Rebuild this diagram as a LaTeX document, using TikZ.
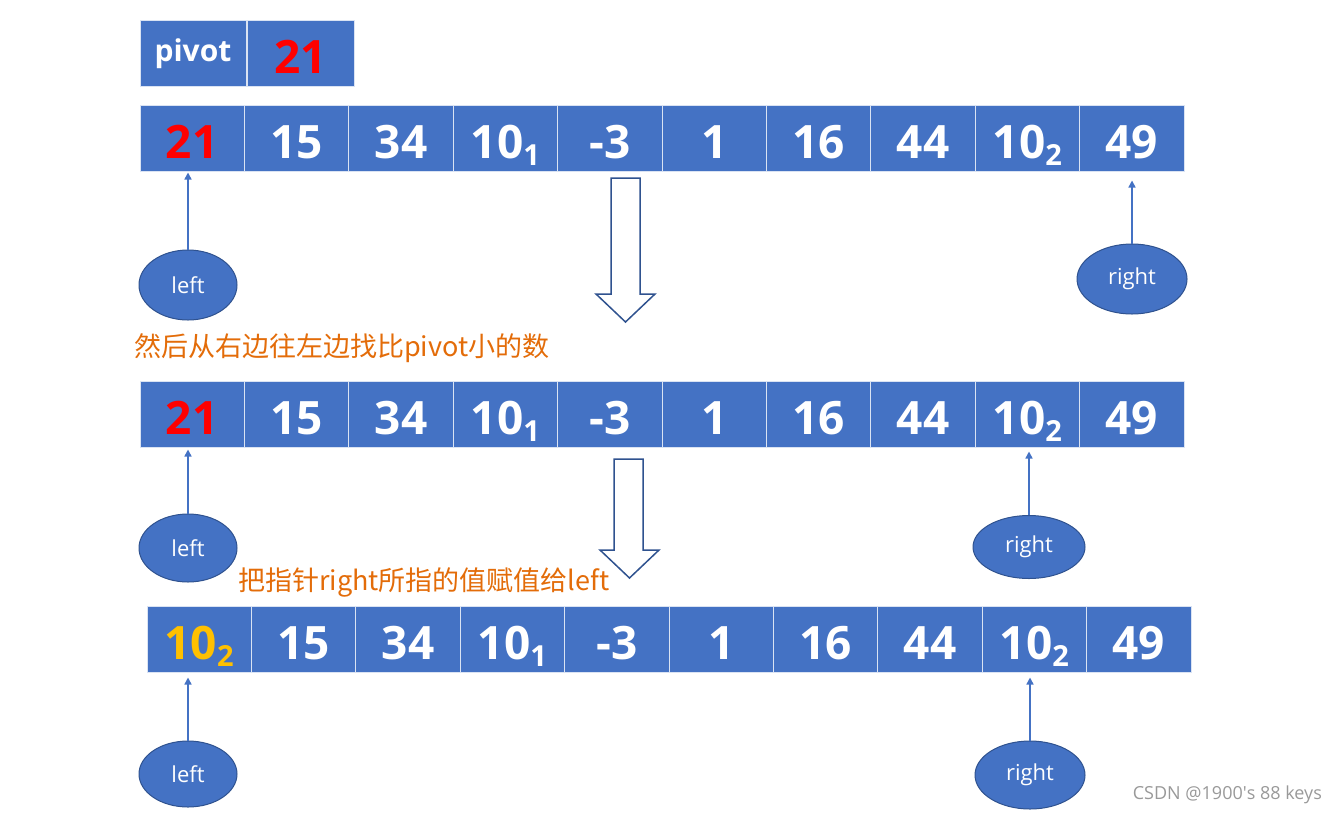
\documentclass[tikz,border=0pt]{standalone}
\usepackage{fontspec}
\setmainfont{Open Sans}
\newfontfamily\cjk{Noto Sans CJK SC}
\usepackage{xcolor}
\usepackage{tikz}
\usetikzlibrary{arrows.meta, positioning, shapes.geometric, calc}
\definecolor{cellblue}{HTML}{4472C4}
\definecolor{cellline}{HTML}{DAE3F3}
\definecolor{edgeblue}{HTML}{2F528F}
\definecolor{noteorange}{HTML}{E36C09}
\definecolor{swapgold}{HTML}{FFC000}
\newcommand{\idx}[1]{\raisebox{-.17em}{\fontsize{29}{29}\selectfont #1}}

\begin{document}
\begin{tikzpicture}[
          x=1pt, y=-1pt,
          cell/.style={rectangle, draw=cellline, line width=1pt, fill=cellblue, text=white,
                       minimum width=104.4pt, minimum height=66pt, inner sep=0pt,
                       text height=40pt, text depth=0pt,
                       font=\fontsize{46}{46}\selectfont\bfseries},
          ptr/.style={ellipse, draw=edgeblue, line width=1pt, fill=cellblue, text=white,
                      inner sep=0pt, font=\fontsize{22}{22}\selectfont},
          up/.style={-{Triangle[length=7pt,width=7pt]}, cellblue, line width=1.5pt},
          note/.style={anchor=west, inner sep=0pt, text=noteorange, font=\cjk\fontsize{27}{27}\selectfont},
          bigarrow/.style={draw=edgeblue, fill=white, line width=1.5pt, line join=miter}
        ]
          \useasboundingbox (0,0) rectangle (1337,815);

          % pivot box
          \node[cell, minimum width=106pt, text height=24pt, text depth=8pt,
                font=\fontsize{30}{30}\selectfont\bfseries] (pv) at (193,53) {pivot};
          \node[cell, minimum width=107pt] (pn) at (300.5,53) {\textcolor{red}{21}};

          % first row
          \foreach \v [count=\i] in {{\textcolor{red}{21}},15,34,10\idx{1},-3,1,16,44,10\idx{2},49}
            \node[cell] (a\i) at ({192.2+104.4*(\i-1)},138) {\v};
          \node[ptr, minimum width=98pt, minimum height=70pt] (la) at (188,285) {left};
          \node[ptr, minimum width=110pt, minimum height=70pt] (ra) at (1132,279) {right};
          \draw[up] (la.north) -- ([yshift=-1pt]la.north |- a1.south);
          \draw[up] (ra.north) -- ([yshift=-9pt]ra.north |- a10.south);

          \draw[bigarrow] (611,178) -- (640,178) -- (640,294) -- (655,294) -- (625.5,322)
            -- (596,294) -- (611,294) -- cycle;
          \node[note] (note1) at (134,348) {然后从右边往左边找比pivot小的数};

          % second row
          \foreach \v [count=\i] in {{\textcolor{red}{21}},15,34,10\idx{1},-3,1,16,44,10\idx{2},49}
            \node[cell] (b\i) at ({192.2+104.4*(\i-1)},414) {\v};
          \node[ptr, minimum width=98pt, minimum height=68pt] (lb) at (188,548) {left};
          \node[ptr, minimum width=112pt, minimum height=63pt] (rb) at (1029,547) {right};
          \draw[up] (lb.north) -- ([yshift=-2pt]lb.north |- b1.south);
          \draw[up] (rb.north) -- ([yshift=-4pt]rb.north |- b9.south);

          \draw[bigarrow] (614,459) -- (643,459) -- (643,550) -- (659,550) -- (629.5,578)
            -- (600,550) -- (614,550) -- cycle;
          \node[note] (note2) at (238,582) {把指针right所指的值赋值给left};

          % third row
          \foreach \v [count=\i] in {{\textcolor{swapgold}{10\idx{2}}},15,34,10\idx{1},-3,1,16,44,10\idx{2},49}
            \node[cell] (c\i) at ({199.2+104.4*(\i-1)},639) {\v};
          \node[ptr, minimum width=98pt, minimum height=66pt] (lc) at (188,774) {left};
          \node[ptr, minimum width=110pt, minimum height=68pt] (rc) at (1030,775) {right};
          \draw[up] (lc.north) -- ([yshift=-5pt]lc.north |- c1.south);
          \draw[up] (rc.north) -- ([yshift=-5pt]rc.north |- c9.south);

          \node[anchor=east, inner sep=0pt, text=black!40, font=\fontsize{18}{18}\selectfont]
            (mark) at (1322,795) {CSDN @1900\textquotesingle s 88 keys};
        \end{tikzpicture}
\end{document}
